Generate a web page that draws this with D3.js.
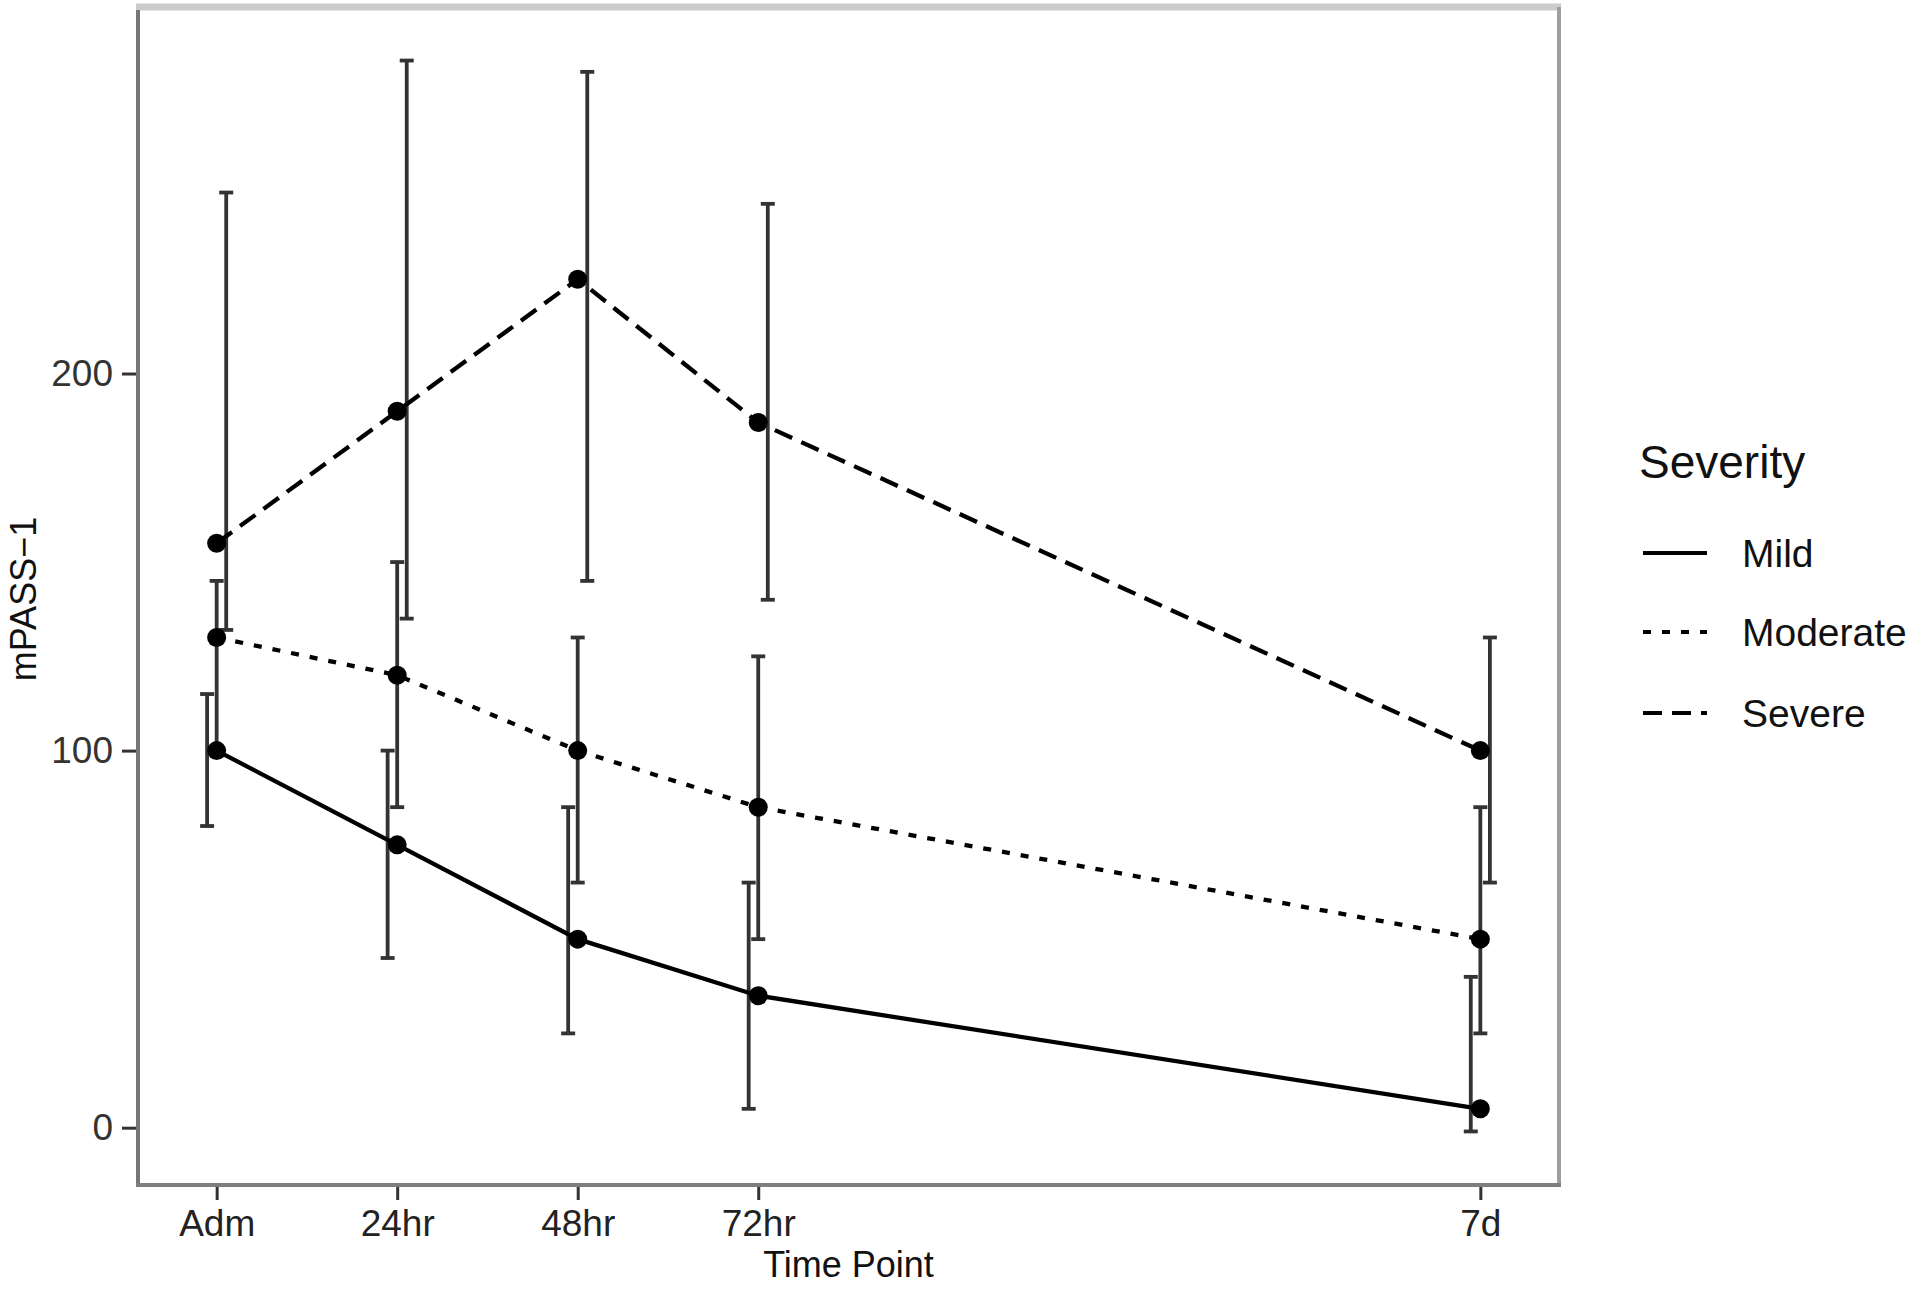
<!DOCTYPE html>
<html>
<head>
<meta charset="utf-8">
<script src="https://cdn.jsdelivr.net/npm/d3@7"></script>
<style>
  body { margin: 0; background: #fff; }
  text { font-family: "Liberation Sans", Arial, sans-serif; }
</style>
</head>
<body>
<div id="chart"></div>
<script>
// time points (hours after admission) and their tick labels
const timeHours = [0, 24, 48, 72, 168];
const timeLabels = ["Adm", "24hr", "48hr", "72hr", "7d"];
const severities = ["Mild", "Moderate", "Severe"];

// mean mPASS-1 per severity group
const mildMean = [100, 75, 50, 35, 5];
const moderateMean = [130, 120, 100, 85, 50];
const severeMean = [155, 190, 225, 187, 100];

// error bar limits
const mildLow = [80, 45, 25, 5, -1];
const mildHigh = [115, 100, 85, 65, 40];
const moderateLow = [100, 85, 65, 50, 25];
const moderateHigh = [145, 150, 130, 125, 85];
const severeLow = [132, 135, 145, 140, 65];
const severeHigh = [248, 283, 280, 245, 130];

const yTicks = [0, 100, 200];

(() => {
  const width = 1920, height = 1289;
  const panel = {left: 138, right: 1559, top: 7, bottom: 1185};

  const svg = d3.select("#chart")
    .append("svg")
    .attr("width", width)
    .attr("height", height);

  const series = [
    {name: "Mild", mean: mildMean, low: mildLow, high: mildHigh, dash: null, shift: -1},
    {name: "Moderate", mean: moderateMean, low: moderateLow, high: moderateHigh, dash: "8,11", shift: 0},
    {name: "Severe", mean: severeMean, low: severeLow, high: severeHigh, dash: "19,10", shift: 1}
  ];

  // errorbars are dodged a little, points are not
  const dodge = 1.27, capHalf = 0.6;
  const xMin = d3.min(timeHours) - dodge - capHalf, xMax = d3.max(timeHours) + dodge + capHalf;
  const xPad = (xMax - xMin) * 0.05;
  const x = d3.scaleLinear()
    .domain([xMin - xPad, xMax + xPad])
    .range([panel.left, panel.right]);

  const yMin = d3.min(series, s => d3.min(s.low)), yMax = d3.max(series, s => d3.max(s.high));
  const yPad = (yMax - yMin) * 0.05;
  const y = d3.scaleLinear()
    .domain([yMin - yPad, yMax + yPad])
    .range([panel.bottom, panel.top]);

  const plot = svg.append("g").attr("id", "plot-group");

  // error bars
  series.forEach(s => {
    const g = plot.append("g").attr("class", "errorbars");
    timeHours.forEach((t, i) => {
      const cx = x(t + s.shift * dodge);
      g.append("line")
        .attr("x1", cx).attr("x2", cx)
        .attr("y1", y(s.low[i])).attr("y2", y(s.high[i]))
        .attr("stroke", "#333").attr("stroke-width", 3.8);
      [s.low[i], s.high[i]].forEach(v => {
        g.append("line")
          .attr("x1", cx - 7).attr("x2", cx + 7)
          .attr("y1", y(v)).attr("y2", y(v))
          .attr("stroke", "#333").attr("stroke-width", 3.8);
      });
    });
  });

  // lines
  const line = d3.line()
    .x((d, i) => x(timeHours[i]))
    .y(d => y(d));

  series.forEach(s => {
    plot.append("path")
      .datum(s.mean)
      .attr("d", line)
      .attr("fill", "none")
      .attr("stroke", "#000")
      .attr("stroke-width", 4.3)
      .attr("stroke-dasharray", s.dash);
  });

  // points
  series.forEach(s => {
    plot.append("g").selectAll("circle")
      .data(s.mean)
      .enter().append("circle")
      .attr("cx", (d, i) => x(timeHours[i]))
      .attr("cy", d => y(d))
      .attr("r", 9.5)
      .attr("fill", "#000");
  });

  // panel border (uneven greys like the scanned figure)
  const border = svg.append("g").attr("id", "border");
  border.append("line")
    .attr("x1", panel.left - 2).attr("x2", panel.right + 2)
    .attr("y1", panel.top).attr("y2", panel.top)
    .attr("stroke", "#cbcbcb").attr("stroke-width", 7);
  border.append("line")
    .attr("x1", panel.right).attr("x2", panel.right)
    .attr("y1", panel.top).attr("y2", panel.bottom)
    .attr("stroke", "#9e9e9e").attr("stroke-width", 4);
  border.append("line")
    .attr("x1", panel.left).attr("x2", panel.left)
    .attr("y1", panel.top + 3).attr("y2", panel.bottom)
    .attr("stroke", "#767676").attr("stroke-width", 4);
  border.append("line")
    .attr("x1", panel.left - 2).attr("x2", panel.right + 2)
    .attr("y1", panel.bottom).attr("y2", panel.bottom)
    .attr("stroke", "#7e7e7e").attr("stroke-width", 4);

  // axes
  const xAxis = d3.axisBottom(x)
    .tickValues(timeHours)
    .tickFormat((d, i) => timeLabels[i])
    .tickSize(13)
    .tickPadding(10);
  const gx = svg.append("g")
    .attr("transform", `translate(0,${panel.bottom + 2})`)
    .call(xAxis);
  gx.select(".domain").remove();
  gx.selectAll(".tick line").attr("stroke", "#333").attr("stroke-width", 3);
  gx.selectAll(".tick text")
    .attr("fill", "#222")
    .style("font-size", "37px")
    .attr("dy", "0.71em");

  const yAxis = d3.axisLeft(y)
    .tickValues(yTicks)
    .tickSize(14)
    .tickPadding(9);
  const gy = svg.append("g")
    .attr("transform", `translate(${panel.left - 2},0)`)
    .call(yAxis);
  gy.select(".domain").remove();
  gy.selectAll(".tick line").attr("stroke", "#333").attr("stroke-width", 3);
  gy.selectAll(".tick text")
    .attr("fill", "#333")
    .style("font-size", "37px");

  // axis titles
  svg.append("text")
    .attr("x", (panel.left + panel.right) / 2)
    .attr("y", 1277)
    .attr("text-anchor", "middle")
    .style("font-size", "36px")
    .attr("fill", "#111")
    .text("Time Point");

  svg.append("text")
    .attr("transform", `translate(36,${(panel.top + panel.bottom) / 2 + 3}) rotate(-90)`)
    .attr("text-anchor", "middle")
    .style("font-size", "36px")
    .attr("fill", "#111")
    .text("mPASS\u22121");

  // legend
  const legend = svg.append("g").attr("id", "legend-group");
  legend.append("text")
    .attr("x", 1639)
    .attr("y", 478)
    .style("font-size", "46px")
    .attr("fill", "#111")
    .text("Severity");

  const keyY = [553, 632, 713];
  legend.selectAll("g.key")
    .data(series)
    .enter().append("g")
    .attr("class", "key")
    .attr("transform", (d, i) => `translate(1643,${keyY[i]})`)
    .each(function(d) {
      const k = d3.select(this);
      k.append("line")
        .attr("x1", 0).attr("x2", 64)
        .attr("y1", 0).attr("y2", 0)
        .attr("stroke", "#000")
        .attr("stroke-width", 4)
        .attr("stroke-dasharray", d.dash);
      k.append("text")
        .attr("x", 99)
        .attr("y", 0)
        .attr("dy", "0.36em")
        .style("font-size", "39px")
        .attr("fill", "#111")
        .text(d.name);
    });
})();
</script>
</body>
</html>
